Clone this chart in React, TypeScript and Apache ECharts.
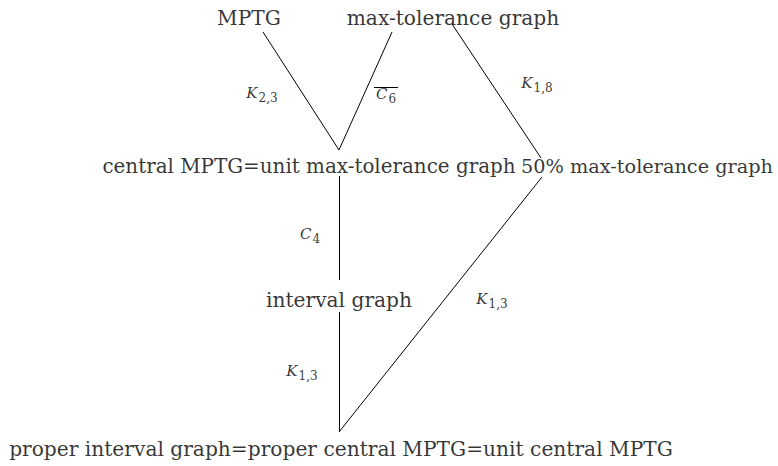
import React, { useEffect, useRef } from "react";
import * as echarts from "echarts";

const nodeNames = [
  "MPTG",
  "max-tolerance graph",
  "central MPTG=unit max-tolerance graph",
  "50% max-tolerance graph",
  "interval graph",
  "proper interval graph=proper central MPTG=unit central MPTG",
];
const nodeX = [249, 453, 309, 647, 339, 341];
const nodeY = [18, 18, 166, 166, 300, 449];
const nodeFontSize = [20.2, 20.2, 19.9, 19.3, 20.2, 20.2];

const edgeFromX = [263, 392, 452, 339, 339, 542];
const edgeFromY = [32, 32, 24, 176, 312, 177];
const edgeToX = [339, 339, 541, 339, 339, 339];
const edgeToY = [150, 150, 158, 280, 432, 432];

const edgeLabelBase = ["K", "C", "K", "C", "K", "K"];
const edgeLabelSub = ["2,3", "6", "1,8", "4", "1,3", "1,3"];
const edgeLabelX = [262, 386, 537, 310, 492, 302];
const edgeLabelY = [95, 96, 85, 236, 301, 373];

const overlineX1 = [374];
const overlineX2 = [398];
const overlineY = [87];

export default function App() {
  const ref = useRef<HTMLDivElement>(null);
  useEffect(() => {
    document.body.style.margin = "0";
    const chart = echarts.init(ref.current!, undefined, { renderer: "svg" });
    const edges = edgeFromX.map((x, i) => ({
      coords: [
        [x, edgeFromY[i]],
        [edgeToX[i], edgeToY[i]],
      ],
    }));
    const overlines = overlineX1.map((x, i) => ({
      coords: [
        [x, overlineY[i]],
        [overlineX2[i], overlineY[i]],
      ],
    }));
    chart.setOption({
      animation: false,
      backgroundColor: "#ffffff",
      grid: { left: 0, right: 0, top: 0, bottom: 0 },
      xAxis: { type: "value", min: 0, max: 778, show: false },
      yAxis: { type: "value", min: 0, max: 466, inverse: true, show: false },
      series: [
        {
          type: "lines",
          coordinateSystem: "cartesian2d",
          data: edges.concat(overlines),
          lineStyle: { color: "#000", width: 1, opacity: 1 },
          symbol: "none",
          silent: true,
        },
        {
          type: "scatter",
          symbolSize: 0,
          data: nodeNames.map((n, i) => ({
            value: [nodeX[i], nodeY[i]],
            name: n,
            label: { fontSize: nodeFontSize[i] },
          })),
          label: {
            show: true,
            position: "inside",
            formatter: (p: any) => p.name,
            color: "#000",
            fontFamily: "DejaVu Serif",
            fontSize: 20.2,
          },
          silent: true,
        },
        {
          type: "scatter",
          symbolSize: 0,
          data: edgeLabelBase.map((b, i) => ({
            value: [edgeLabelX[i], edgeLabelY[i]],
            name: b,
            sub: edgeLabelSub[i],
          })),
          label: {
            show: true,
            position: "inside",
            formatter: (p: any) => `{k|${p.data.name}}{s|${p.data.sub}}`,
            color: "#000",
            rich: {
              k: {
                fontFamily: "DejaVu Serif",
                fontStyle: "italic",
                fontSize: 15,
                lineHeight: 20,
                verticalAlign: "top",
                color: "#000",
              },
              s: {
                fontFamily: "DejaVu Serif",
                fontSize: 12,
                lineHeight: 13,
                padding: [7, 0, 0, 1],
                verticalAlign: "top",
                color: "#000",
              },
            },
          },
          silent: true,
        },
      ],
    });
    return () => chart.dispose();
  }, []);
  return <div ref={ref} style={{ width: 778, height: 466 }} />;
}
